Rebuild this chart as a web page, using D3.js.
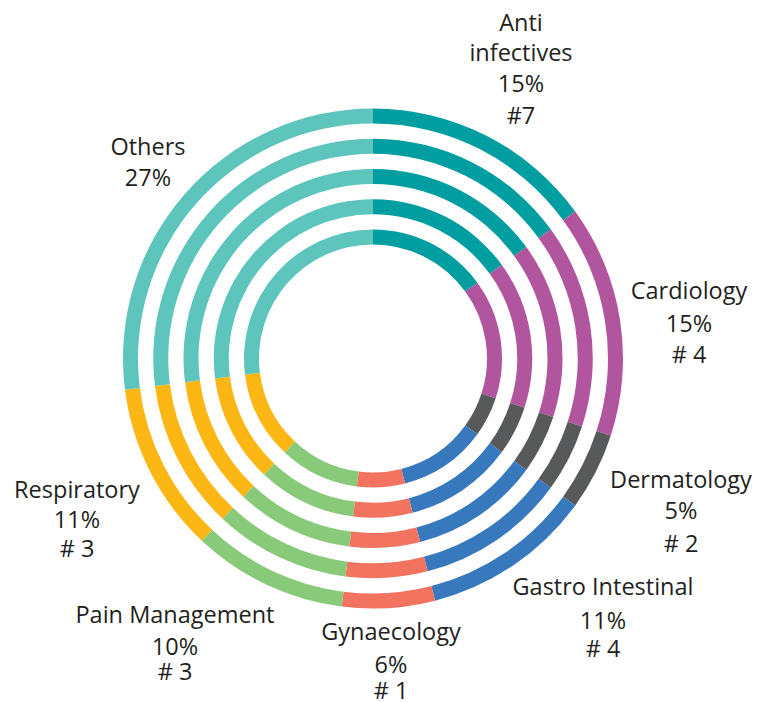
<!DOCTYPE html>
<html>
<head>
<meta charset="utf-8">
<script src="https://cdn.jsdelivr.net/npm/d3@7"></script>
<style>
  body { margin: 0; background: #fff; }
  text { font-family: "Open Sans", sans-serif; font-size: 23.5px; fill: #231f20; }
</style>
</head>
<body>
<div id="chart"></div>
<script>
// data
var categories = ["Anti infectives", "Cardiology", "Dermatology", "Gastro Intestinal", "Gynaecology", "Pain Management", "Respiratory", "Others"];
var shares = [15, 15, 5, 11, 6, 10, 11, 27];
var ranks = ["#7", "# 4", "# 2", "# 4", "# 1", "# 3", "# 3", ""];
var colors = ["#009ea0", "#b0559e", "#58595b", "#3878bd", "#f37361", "#89c97a", "#fdb714", "#5ec5bd"];
var ringCount = 5;

var svgWidth = 757;
var svgHeight = 702;
var cx = 373, cy = 358.5;

var svg = d3.select("#chart")
  .append("svg")
  .attr("width", svgWidth)
  .attr("height", svgHeight);

var chartGroup = svg.append("g")
  .attr("transform", `translate(${cx}, ${cy})`);

var pie = d3.pie().sort(null).value(d => d);
var slices = pie(shares);

// ring radii: outer 250, stepping in by 30, each 15 thick
var ringScale = d3.scaleLinear().domain([0, ringCount - 1]).range([250, 129]);
var thickness = 15;

d3.range(ringCount).forEach(function(i) {
  var rOut = ringScale(i);
  var arc = d3.arc().innerRadius(rOut - thickness).outerRadius(rOut);
  chartGroup.append("g").selectAll("path")
    .data(slices)
    .enter().append("path")
    .attr("d", arc)
    .attr("fill", (d, j) => colors[j]);
});

// label placement: centre x and the baseline of each line
var labelPos = [
  { x: 521, ys: [31, 61, 92, 124], lines: ["Anti", "infectives"] },
  { x: 689, ys: [299, 332, 363] },
  { x: 681, ys: [488, 519, 552] },
  { x: 603, ys: [595, 629, 657] },
  { x: 391, ys: [640, 673, 699] },
  { x: 175, ys: [623, 655, 680] },
  { x: 77, ys: [498, 528, 557] },
  { x: 148, ys: [155, 186] }
];

categories.forEach(function(c, i) {
  var p = labelPos[i];
  var lines = (p.lines || [c]).concat([shares[i] + "%"]);
  if (ranks[i]) lines.push(ranks[i]);
  var t = svg.append("text")
    .attr("text-anchor", "middle")
    .attr("x", p.x)
    .attr("y", p.ys[0]);
  lines.forEach(function(l, k) {
    t.append("tspan")
      .attr("x", p.x)
      .attr("y", p.ys[k])
      .text(l);
  });
});
</script>
</body>
</html>
